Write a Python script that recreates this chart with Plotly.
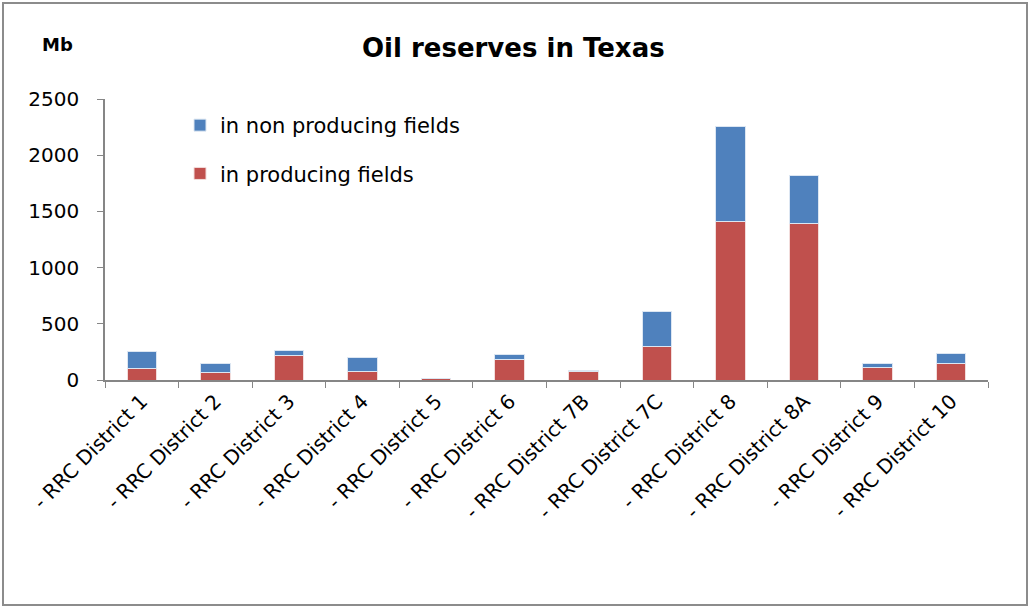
import plotly.graph_objects as go

districts = ["- RRC District 1", "- RRC District 2", "- RRC District 3", "- RRC District 4",
             "- RRC District 5", "- RRC District 6", "- RRC District 7B", "- RRC District 7C",
             "- RRC District 8", "- RRC District 8A", "- RRC District 9", "- RRC District 10"]
producing = [104, 71, 220, 80, 12, 184, 77, 302, 1408, 1388, 110, 145]
non_producing = [148, 80, 44, 116, 3, 47, 12, 308, 846, 432, 35, 92]
y_ticks = [0, 500, 1000, 1500, 2000, 2500]

FONT = "DejaVu Sans"
W, H = 1029, 607
L, R, T, B = 105, 41, 99, 227
pw, ph = W - L - R, H - T - B

fig = go.Figure()
fig.add_trace(go.Bar(x=districts, y=producing, name="in producing fields",
                     marker=dict(color="#C0504D", line=dict(color="#F2DCDB", width=1)),
                     legendgroup="p", legendrank=2))
fig.add_trace(go.Bar(x=districts, y=non_producing, name="in non producing fields",
                     marker=dict(color="#4F81BD", line=dict(color="#DCE6F2", width=1)),
                     legendgroup="n", legendrank=1))

fig.update_layout(
    width=W, height=H,
    margin=dict(l=L, r=R, t=T, b=B, autoexpand=False),
    barmode="stack", bargap=0.6,
    paper_bgcolor="white", plot_bgcolor="white",
    font=dict(family=FONT, color="#000000"),
    showlegend=True,
    legend=dict(x=(180 - L) / pw, y=(380 - 105) / ph, xanchor="left", yanchor="top",
                traceorder="grouped", tracegroupgap=18,
                font=dict(family=FONT, size=21, color="#000000"),
                bgcolor="rgba(0,0,0,0)"),
    xaxis=dict(showline=True, linecolor="#868686", linewidth=1.5, ticks="outside",
               tickson="boundaries", ticklen=6, tickcolor="#868686", tickangle=-45,
               tickfont=dict(family=FONT, size=20, color="#000000"), showgrid=False),
    yaxis=dict(range=[0, 2500], tickvals=y_ticks, showline=True, linecolor="#868686",
               linewidth=1.5, ticks="outside", ticklen=6, tickcolor="#868686",
               tickfont=dict(family=FONT, size=20, color="#000000"), showgrid=False,
               ticklabelstandoff=14),
    annotations=[
        dict(text="<b>Oil reserves in Texas</b>", xref="paper", yref="paper",
             x=(513 - L) / pw, y=(380 - 48) / ph, xanchor="center", yanchor="middle",
             showarrow=False, font=dict(family=FONT, size=26, color="#000000")),
        dict(text="<b>Mb</b>", xref="paper", yref="paper",
             x=(57 - L) / pw, y=(380 - 44) / ph, xanchor="center", yanchor="middle",
             showarrow=False, font=dict(family=FONT, size=18, color="#000000")),
    ],
    shapes=[dict(type="rect", xref="paper", yref="paper",
                 x0=(3 - L) / pw, x1=(1027 - L) / pw,
                 y0=(380 - 605) / ph, y1=(380 - 3) / ph,
                 line=dict(color="#8C8C8C", width=2))],
)

fig.write_html("out.html", config={"displayModeBar": False},
               post_script="document.body.style.margin='0';")
